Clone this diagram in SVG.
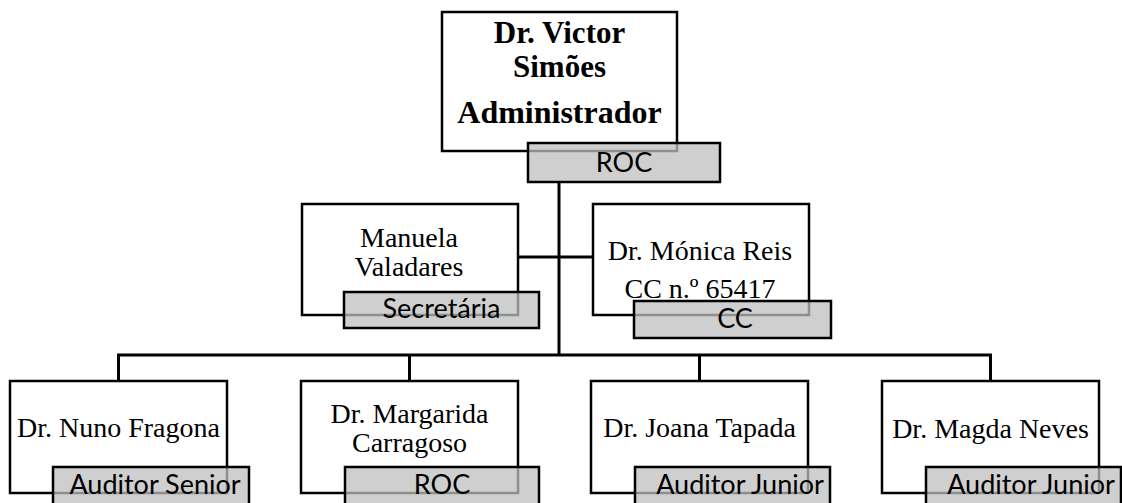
<svg xmlns="http://www.w3.org/2000/svg" width="1122" height="503" viewBox="0 0 1122 503">
<style>
.box{fill:#fff;stroke:#000;stroke-width:2.5}
.lab{fill:#bfbfbf;fill-opacity:0.75;stroke:#000;stroke-width:2.5}
.name{font-family:"Liberation Serif","Times New Roman",serif;font-size:28px;fill:#000;text-anchor:middle}
.bold{font-weight:bold;font-size:31px}
.lt{font-family:Lato,"Liberation Sans",sans-serif;font-size:27px;fill:#000;text-anchor:middle}
.con{fill:none;stroke:#000;stroke-width:3}
</style>
<rect width="1122" height="503" fill="#fff"/>
<g id="connectors">
<line class="con" x1="559" y1="182" x2="559" y2="355"/>
<line class="con" x1="518" y1="257" x2="593" y2="257"/>
<polyline class="con" points="118.5,381 118.5,355 990.5,355 990.5,381"/>
<line class="con" x1="409.5" y1="355" x2="409.5" y2="381"/>
<line class="con" x1="699.5" y1="355" x2="699.5" y2="381"/>
</g>
<g id="n-victor">
<rect class="box" x="442" y="12" width="235" height="139"/>
<text class="name bold" x="559.5" y="43">Dr. Victor</text>
<text class="name bold" x="559.5" y="77">Simões</text>
<text class="name bold" x="559.5" y="123" style="font-size:32px">Administrador</text>
<rect class="lab" x="528" y="143" width="192" height="39"/>
<text class="lt" x="624" y="172">ROC</text>
</g>
<g id="n-manuela">
<rect class="box" x="302" y="204" width="216" height="111"/>
<text class="name" x="409" y="247">Manuela</text>
<text class="name" x="409" y="276">Valadares</text>
<rect class="lab" x="344" y="292" width="195" height="36"/>
<text class="lt" x="441.5" y="318">Secretária</text>
</g>
<g id="n-monica">
<rect class="box" x="593" y="204" width="216" height="111"/>
<text class="name" x="700" y="260">Dr. Mónica Reis</text>
<text class="name" x="700" y="298">CC n.º 65417</text>
<rect class="lab" x="634" y="301" width="197" height="37"/>
<text class="lt" x="735" y="328">CC</text>
</g>
<g id="n-nuno">
<rect class="box" x="10" y="381" width="217" height="112"/>
<text class="name" x="118.5" y="437">Dr. Nuno Fragona</text>
<rect class="lab" x="53" y="467" width="196" height="40"/>
<text class="lt" x="155" y="494">Auditor Senior</text>
</g>
<g id="n-margarida">
<rect class="box" x="301" y="381" width="217" height="112"/>
<text class="name" x="409.5" y="423">Dr. Margarida</text>
<text class="name" x="409.5" y="452">Carragoso</text>
<rect class="lab" x="345" y="467" width="194" height="40"/>
<text class="lt" x="442" y="494">ROC</text>
</g>
<g id="n-joana">
<rect class="box" x="591" y="381" width="217" height="112"/>
<text class="name" x="699.5" y="437">Dr. Joana Tapada</text>
<rect class="lab" x="635" y="467" width="195" height="40"/>
<text class="lt" x="740" y="494">Auditor Junior</text>
</g>
<g id="n-magda">
<rect class="box" x="882" y="381" width="217" height="112"/>
<text class="name" x="990.5" y="438">Dr. Magda Neves</text>
<rect class="lab" x="926" y="467" width="195" height="40"/>
<text class="lt" x="1031" y="494">Auditor Junior</text>
</g>
</svg>
